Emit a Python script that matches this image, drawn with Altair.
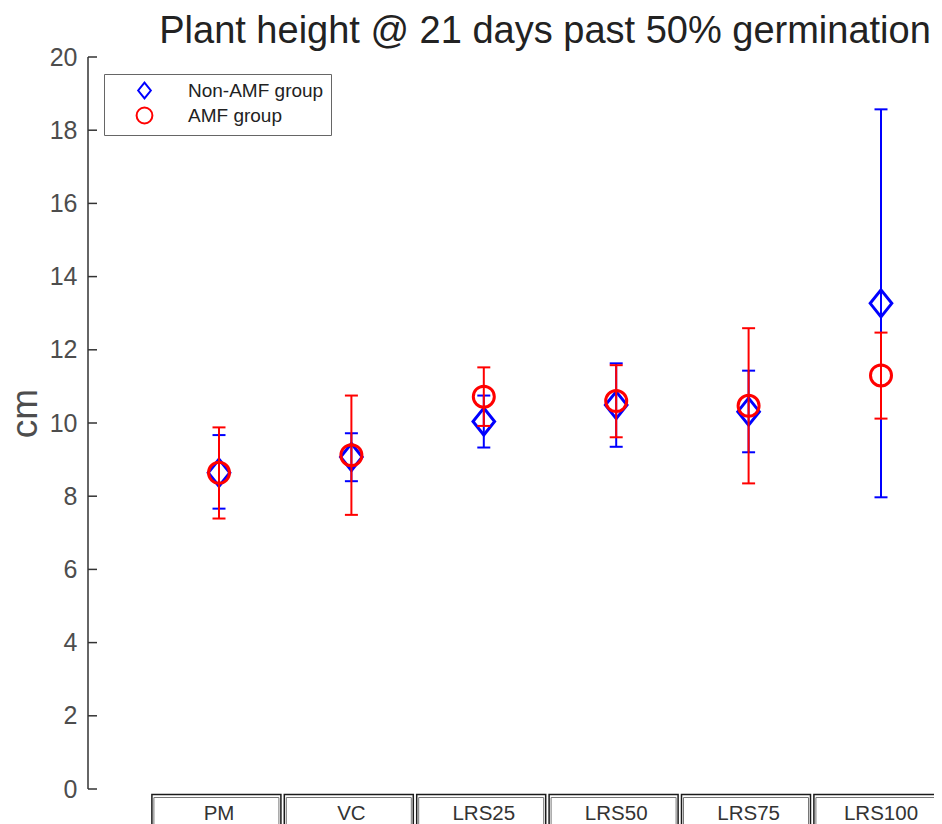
import altair as alt
import pandas as pd

categories = ["PM", "VC", "LRS25", "LRS50", "LRS75", "LRS100"]
groups = ["Non-AMF group", "AMF group"]

non_amf_mean = [8.64, 9.07, 10.04, 10.49, 10.31, 13.27]
non_amf_lo = [7.66, 8.41, 9.33, 9.35, 9.20, 7.97]
non_amf_hi = [9.67, 9.72, 10.75, 11.63, 11.43, 18.57]

amf_mean = [8.64, 9.12, 10.72, 10.60, 10.47, 11.30]
amf_lo = [7.39, 7.49, 9.92, 9.61, 8.35, 10.12]
amf_hi = [9.88, 10.75, 11.52, 11.58, 12.59, 12.47]

y_ticks = [0, 2, 4, 6, 8, 10, 12, 14, 16, 18, 20]

rows = []
for g, ms, los, his in [(groups[0], non_amf_mean, non_amf_lo, non_amf_hi),
                        (groups[1], amf_mean, amf_lo, amf_hi)]:
    for c, m, lo, hi in zip(categories, ms, los, his):
        rows.append({"group": g, "cat": c, "mean": m, "lo": lo, "hi": hi})
df = pd.DataFrame(rows)
cat_df = pd.DataFrame({"cat": categories})
tick_df = pd.DataFrame({"v": y_ticks})
one_df = pd.DataFrame({"a": [0]})

W, H = 846, 732
FONT = "Liberation Sans"
AXC = "#333333"
COLORS = ["#0000ff", "#ff0000"]
SIZES = [729, 441]

xscale = alt.Scale(domain=categories, range=[64.8, 859.2], paddingInner=0, paddingOuter=0)
yscale = alt.Scale(domain=[0, 20], nice=False, zero=True)
color_scale = alt.Scale(domain=groups, range=COLORS)
DIAMOND = "M0,-1L0.8,0L0,1L-0.8,0Z"
shape_scale = alt.Scale(domain=groups, range=[DIAMOND, "circle"])

yaxis = alt.Axis(values=y_ticks, domain=False, ticks=False, grid=False,
                 labelPadding=11, labelFontSize=25, labelColor="#4d4d4d", labelFont=FONT,
                 titleFontSize=37, titleFont=FONT, titleColor="#4d4d4d",
                 titleFontWeight="normal", titlePadding=5, titleY=356)


def X():
    return alt.X("cat:N", scale=xscale, axis=None, sort=categories)


def Y(f):
    return alt.Y(f"{f}:Q", scale=yscale, axis=yaxis, title="cm")


legend = alt.Legend(title=None, orient="none", legendX=16, legendY=17,
                    strokeColor="#666666", fillColor="white", padding=7,
                    symbolOffset=24, labelOffset=34, rowPadding=0,
                    labelFontSize=19, labelFont=FONT, labelColor="#222222",
                    symbolSize=250, symbolStrokeWidth=2, labelLimit=400)
color = alt.Color("group:N", scale=color_scale, legend=legend)
shape = alt.Shape("group:N", scale=shape_scale, legend=legend)


def series(g, col, sz):
    base = alt.Chart(df).transform_filter(alt.datum.group == g)
    rule = base.mark_rule(strokeWidth=2, color=col).encode(x=X(), y=Y("lo"), y2="hi:Q")
    cap_lo = base.mark_tick(thickness=2, size=13, opacity=1, color=col).encode(x=X(), y=Y("lo"))
    cap_hi = base.mark_tick(thickness=2, size=13, opacity=1, color=col).encode(x=X(), y=Y("hi"))
    pts = base.mark_point(filled=False, strokeWidth=3, opacity=1, size=sz).encode(
        x=X(), y=Y("mean"), color=color, shape=shape)
    return [rule, cap_lo, cap_hi, pts]


box_outer = alt.Chart(cat_df).mark_bar(size=129, xOffset=-2.6, fill="white",
                                       stroke="#1a1a1a", strokeWidth=1.5).encode(
    x=X(), y=alt.value(737.5), y2=alt.value(800))
box_inner = alt.Chart(cat_df).mark_bar(size=125, xOffset=-2.6, fillOpacity=0,
                                       stroke="#777777", strokeWidth=1).encode(
    x=X(), y=alt.value(740.5), y2=alt.value(800))
labels = alt.Chart(cat_df).mark_text(fontSize=20.5, font=FONT, color="#333333",
                                     baseline="alphabetic", align="center").encode(
    x=X(), y=alt.value(763), text="cat:N")

y_domain = alt.Chart(one_df).mark_rule(color=AXC, strokeWidth=1.5).encode(
    x=alt.value(0), y=alt.Y(datum=0, scale=yscale, axis=yaxis, title="cm"), y2=alt.Y2(datum=20))
y_tickmarks = alt.Chart(tick_df).mark_rule(color=AXC, strokeWidth=1.5).encode(
    y=Y("v"), x=alt.value(0), x2=alt.value(9))

layers = ([box_outer, box_inner, labels, y_domain, y_tickmarks]
          + series(groups[0], COLORS[0], SIZES[0])
          + series(groups[1], COLORS[1], SIZES[1]))

chart = alt.layer(*layers).properties(
    width=W, height=H,
    padding={"left": 80, "top": 49, "right": 0, "bottom": 35},
    autosize=alt.AutoSizeParams(type="none"),
    background="white",
    title=alt.TitleParams("Plant height @ 21 days past 50% germination",
                          fontSize=38, font=FONT, fontWeight="normal", color="#222222",
                          anchor="middle", dx=34, dy=13, offset=7, frame="group"),
).configure_view(stroke=None)

chart.save("out.html", embed_options={"renderer": "svg", "actions": False})
